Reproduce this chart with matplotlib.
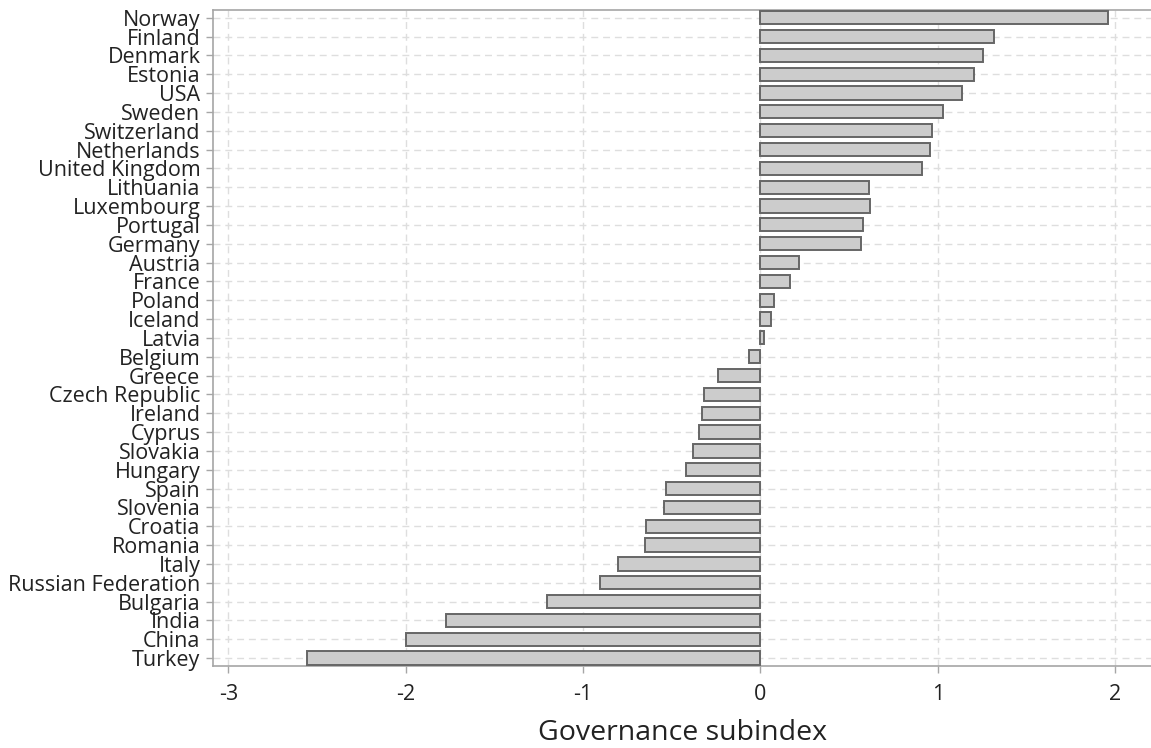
import matplotlib
matplotlib.use("Agg")
import matplotlib.pyplot as plt

countries = [
    "Norway", "Finland", "Denmark", "Estonia", "USA", "Sweden", "Switzerland",
    "Netherlands", "United Kingdom", "Lithuania", "Luxembourg", "Portugal",
    "Germany", "Austria", "France", "Poland", "Iceland", "Latvia", "Belgium",
    "Greece", "Czech Republic", "Ireland", "Cyprus", "Slovakia", "Hungary",
    "Spain", "Slovenia", "Croatia", "Romania", "Italy", "Russian Federation",
    "Bulgaria", "India", "China", "Turkey",
]
governance = [
    1.961, 1.316, 1.254, 1.205, 1.136, 1.032, 0.970,
    0.955, 0.914, 0.615, 0.617, 0.577,
    0.568, 0.216, 0.168, 0.079, 0.059, 0.023, -0.062,
    -0.237, -0.316, -0.329, -0.346, -0.378, -0.417,
    -0.534, -0.543, -0.645, -0.652, -0.801, -0.904,
    -1.201, -1.771, -1.998, -2.558,
]
xticks = [-3, -2, -1, 0, 1, 2]

plt.rcParams["font.family"] = ["Open Sans", "DejaVu Sans"]

fig = plt.figure(figsize=(11.51, 7.48), dpi=100)
ax = fig.add_axes([213 / 1151, 82 / 748, 1 - 213 / 1151, 656 / 748])

n = len(countries)
ypos = [n - 1 - i for i in range(n)]

ax.barh(ypos, governance, height=0.70, color="#cccccc",
        edgecolor="#666666", linewidth=1.4, zorder=3)

ax.set_ylim(-0.42, n - 1 + 0.41)
ax.set_xlim(-3.087, 2.203)
ax.set_yticks(ypos)
ax.set_yticklabels(countries)
ax.set_xticks(xticks)
ax.set_xticklabels([str(t) for t in xticks])

grid_kw = dict(color="#dedede", linestyle=(0, (5, 3.5)), linewidth=1.0, zorder=0)
ax.grid(True, axis="both", **grid_kw)
ax.set_axisbelow(True)

for side in ("left", "bottom", "top"):
    ax.spines[side].set_color("#a6a6a6")
    ax.spines[side].set_linewidth(1.2)
ax.spines["right"].set_visible(False)

ax.tick_params(axis="both", colors="#a6a6a6", labelcolor="#222222",
               length=5, width=1.0, labelsize=15.5)
ax.tick_params(axis="y", pad=4)
ax.tick_params(axis="x", pad=8)

ax.set_xlabel("Governance subindex", fontsize=20.5, color="#222222", labelpad=10)

fig.savefig("out.png", dpi=100)
